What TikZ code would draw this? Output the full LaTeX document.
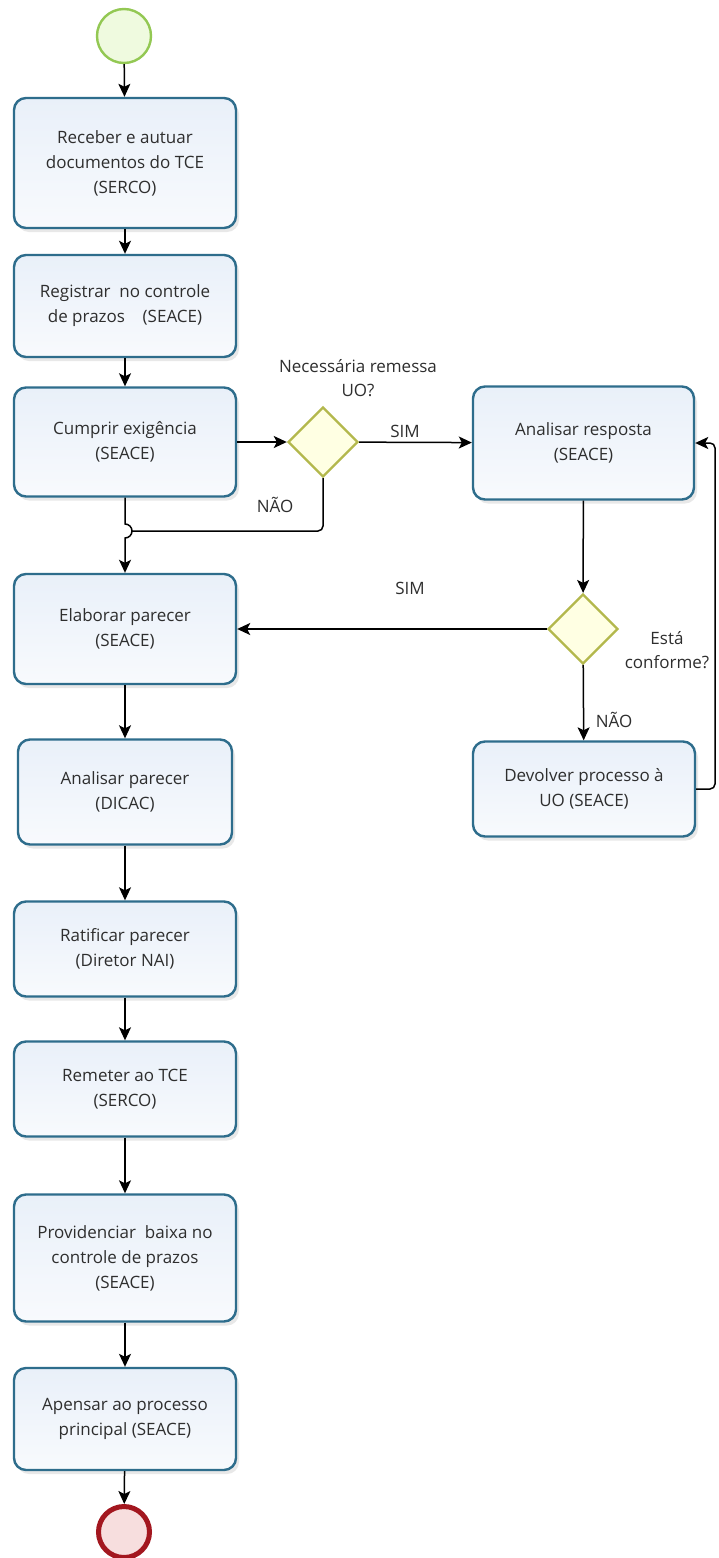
\documentclass[tikz,border=0pt]{standalone}
\usepackage{fontspec}
\setmainfont{Open Sans}
\usetikzlibrary{shapes.geometric,arrows.meta,shadows}
\definecolor{boxborder}{HTML}{2E6D8C}
\definecolor{boxtop}{HTML}{E9F0F9}
\definecolor{boxbot}{HTML}{F8FAFD}
\definecolor{dmborder}{HTML}{B3B84C}
\definecolor{dmfill}{HTML}{FFFFE3}
\definecolor{stborder}{HTML}{93C853}
\definecolor{stfill}{HTML}{EFFADF}
\definecolor{enborder}{HTML}{A3171F}
\definecolor{enfill}{HTML}{F7DEDE}
\definecolor{txt}{HTML}{2E2E2E}
\tikzset{
  task/.style={draw=boxborder, line width=2.4pt, rounded corners=12pt,
    top color=boxtop, bottom color=boxbot, minimum width=222pt,
    align=center, text=txt, font=\fontsize{17}{25}\selectfont,
    drop shadow={shadow xshift=3pt, shadow yshift=-4pt, opacity=0.18, fill=gray}},
  gate/.style={diamond, aspect=1, draw=dmborder, line width=2.4pt, fill=dmfill,
    minimum width=70pt, minimum height=70pt, inner sep=0pt},
  lbl/.style={align=center, text=txt, font=\fontsize{17}{24}\selectfont, inner sep=0pt},
  arr/.style={draw=black, line width=1.5pt, -{Stealth[length=13pt, width=12pt, inset=3pt]}},
  ln/.style={draw=black, line width=1.5pt}
}
\begin{document}
\begin{tikzpicture}[x=1pt, y=-1pt]
\fill[white] (0,0) rectangle (719,1558);
\useasboundingbox (0,0) rectangle (719,1558);

\node[circle, draw=stborder, fill=stfill, line width=2.4pt, minimum size=54pt, inner sep=0pt] (start) at (124,36) {};
\node[task, minimum height=130pt] (b1) at (125,163) {Receber e autuar\\documentos do TCE\\(SERCO)};
\node[task, minimum height=102pt] (b2) at (125,306) {Registrar\ \ no controle\\de prazos\ \ \ \ (SEACE)};
\node[task, minimum height=109pt] (b3) at (125,442) {Cumprir exigência\\(SEACE)};
\node[task, minimum height=110pt] (b4) at (125,629) {Elaborar parecer\\(SEACE)};
\node[task, minimum height=105pt, minimum width=214pt] (b5) at (125,792) {Analisar parecer\\(DICAC)};
\node[task, minimum height=95pt] (b6) at (125,949) {Ratificar parecer\\(Diretor NAI)};
\node[task, minimum height=95pt] (b7) at (125,1089) {Remeter ao TCE\\(SERCO)};
\node[task, minimum height=127pt] (b8) at (125,1258) {Providenciar\ \ baixa no\\controle de prazos\\(SEACE)};
\node[task, minimum height=102pt] (b9) at (125,1419) {Apensar ao processo\\principal (SEACE)};
\node[circle, draw=enborder, fill=enfill, line width=5pt, minimum size=51pt, inner sep=0pt] (end) at (124,1532) {};

\node[gate] (d1) at (323,442) {};
\node[task, minimum height=113pt, minimum width=221pt] (r1) at (583.5,443) {Analisar resposta\\(SEACE)};
\node[gate] (d2) at (583,629) {};
\node[task, minimum height=95pt] (r2) at (584,789) {Devolver processo à\\UO (SEACE)};

\node[lbl] (q1) at (358,378) {Necessária remessa\\UO?};
\node[lbl] (s1) at (405,431) {SIM};
\node[lbl] (n1) at (275,505) {NÃO};
\node[lbl] (s2) at (410,588) {SIM};
\node[lbl] (n2) at (614,720) {NÃO};
\node[lbl] (q2) at (667,650) {Está\\conforme?};

\coordinate (hopT) at (125,524);
\coordinate (hopR) at (132,531);
\coordinate (rr) at (715,789);

\draw[arr] (start) -- (b1);
\draw[arr] (b1) -- (b2);
\draw[arr] (b2) -- (b3);
\draw[arr] (b3) -- (d1);
\draw[arr] (d1) -- (r1);
\draw[ln, rounded corners=5pt] (d1.south) |- (hopR);
\draw[arr] (b3.south) -- (hopT) arc[start angle=90, end angle=-90, radius=7pt] -- (b4.north);
\draw[arr] (r1) -- (d2);
\draw[arr] (d2) -- (b4);
\draw[arr] (d2) -- (r2);
\draw[arr, rounded corners=5pt] (r2.east) -- (rr) |- (r1.east);
\draw[arr] (b4) -- (b5);
\draw[arr] (b5) -- (b6);
\draw[arr] (b6) -- (b7);
\draw[arr] (b7) -- (b8);
\draw[arr] (b8) -- (b9);
\draw[arr] (b9) -- (end);
\end{tikzpicture}
\end{document}
